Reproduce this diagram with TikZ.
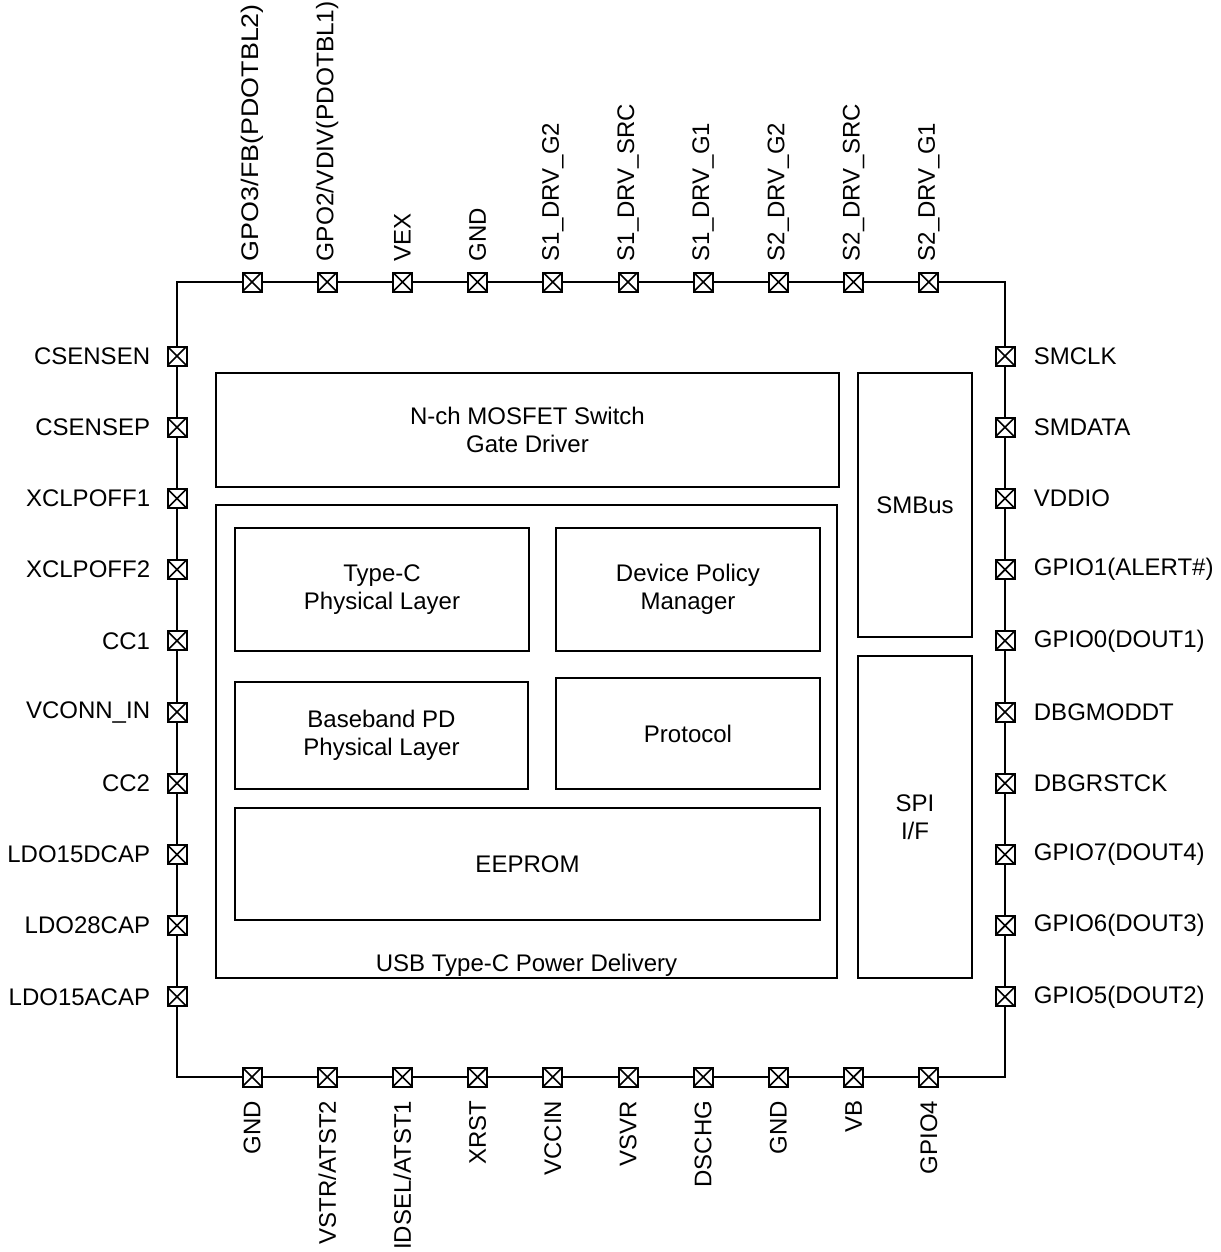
\documentclass[tikz,border=0pt]{standalone}
\usepackage{fontspec}
\setmainfont{Liberation Sans}
\usepackage{tikz}
\usetikzlibrary{positioning}

\tikzset{
  pin/.style={shape=rectangle,draw=black,line width=1pt,fill=white,minimum size=9.5pt,inner sep=0pt,
    path picture={\draw[line width=0.8pt] (path picture bounding box.south west) -- (path picture bounding box.north east)
      (path picture bounding box.north west) -- (path picture bounding box.south east);}},
  pinlbl/.style={inner sep=0pt,font=\fontsize{12}{14}\selectfont},
  block/.style={shape=rectangle,draw=black,line width=0.7pt,align=center,font=\fontsize{12}{14}\selectfont}
}

\begin{document}
\begin{tikzpicture}[x=0.5pt,y=-0.5pt]
\useasboundingbox (0,0) rectangle (1220,1252);
\draw[line width=1pt] (177,282) rectangle (1005,1077);

\foreach \lbl/\st [count=\i from 0] in {{GPO3/FB(PDOTBL2)}/1.12,{GPO2/VDIV(PDOTBL1)}/1.02,VEX/1,GND/1,S1\_DRV\_G2/1,S1\_DRV\_SRC/1,S1\_DRV\_G1/1,S2\_DRV\_G2/1,S2\_DRV\_SRC/1,S2\_DRV\_G1/1} {
  \node[pin] (t\i) at ({252+75.2*\i},282) {};
  \node[pinlbl,rotate=90,xscale=\st,anchor=west] (tl\i) at ([yshift=5pt]t\i.north) {\lbl};
}
\foreach \lbl [count=\i from 0] in {GND,VSTR/ATST2,IDSEL/ATST1,XRST,VCCIN,VSVR,DSCHG,GND,VB,GPIO4} {
  \node[pin] (b\i) at ({252+75.2*\i},1077) {};
  \node[pinlbl,rotate=90,anchor=east] (bl\i) at ([yshift=-6.5pt]b\i.south) {\lbl};
}
\foreach \lbl [count=\i from 0] in {CSENSEN,CSENSEP,XCLPOFF1,XCLPOFF2,CC1,VCONN\_IN,CC2,LDO15DCAP,LDO28CAP,LDO15ACAP} {
  \node[pin] (l\i) at (177,{356+71.2*\i}) {};
  \node[pinlbl,left=8pt of l\i] (ll\i) {\lbl};
}
\foreach \lbl [count=\i from 0] in {SMCLK,SMDATA,VDDIO,GPIO1(ALERT\#),GPIO0(DOUT1),DBGMODDT,DBGRSTCK,GPIO7(DOUT4),GPIO6(DOUT3),GPIO5(DOUT2)} {
  \node[pin] (r\i) at (1005,{356+71.2*\i}) {};
  \node[pinlbl,right=9pt of r\i] (rl\i) {\lbl};
}

\node[block,minimum width=311.5pt,minimum height=57pt] (gate) at (527.5,430) {N-ch MOSFET Switch\\Gate Driver};
\node[block,minimum width=310.5pt,minimum height=236.5pt] (usbpd) at (526.5,741.5) {};
\node[pinlbl,above=1pt of usbpd.south] (pdlbl) {USB Type-C Power Delivery};
\node[block,minimum width=147pt,minimum height=61.5pt] (typec) at (382,589.5) {Type-C\\Physical Layer};
\node[block,minimum width=132pt,minimum height=61.5pt] (dpm) at (688,589.5) {Device Policy\\Manager};
\node[block,minimum width=146.5pt,minimum height=53.5pt] (bbpd) at (381.5,735.5) {Baseband PD\\Physical Layer};
\node[block,minimum width=132pt,minimum height=55.5pt] (proto) at (688,733.5) {Protocol};
\node[block,minimum width=292.5pt,minimum height=56pt] (eeprom) at (527.5,864) {EEPROM};
\node[block,minimum width=57pt,minimum height=132pt] (smbus) at (915,505) {SMBus};
\node[block,minimum width=57pt,minimum height=161pt] (spi) at (915,817) {SPI\\I/F};
\end{tikzpicture}
\end{document}
